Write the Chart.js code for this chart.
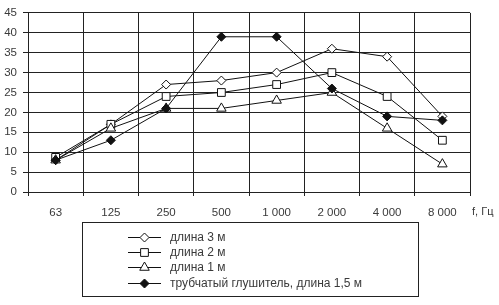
<!DOCTYPE html>
<html>
<head>
<meta charset="utf-8">
<script src="https://cdn.jsdelivr.net/npm/chart.js@4/dist/chart.umd.min.js"></script>
<style>
  html, body { margin: 0; padding: 0; background: #fff; }
  #wrap { width: 499px; height: 305px; position: relative; }
</style>
</head>
<body>
<div id="wrap"><canvas id="noiseChart" width="499" height="305"></canvas></div>
<script>
const freqLabels = ['63', '125', '250', '500', '1 000', '2 000', '4 000', '8 000'];
const len3m = [8, 17, 27, 28, 30, 36, 34, 19];
const len2m = [8.7, 17, 24, 25, 27, 30, 24, 13];
const len1m = [8, 16, 21, 21, 23, 25, 16, 7];
const tubeSilencer = [8, 13, 21, 39, 39, 26, 19, 18];
const seriesNames = ['длина 3 м', 'длина 2 м', 'длина 1 м', 'трубчатый глушитель, длина 1,5 м'];
const yTicks = [0, 5, 10, 15, 20, 25, 30, 35, 40, 45];

const fontFamily = '"Liberation Sans", Arial, sans-serif';
const textColor = '#3a3a3a';

function makeSet(label, data, style, radius, fill, order) {
    return {
        label: label,
        data: data,
        borderColor: '#111',
        borderWidth: 1,
        pointStyle: style,
        pointRadius: radius,
        pointHoverRadius: radius,
        pointBackgroundColor: fill,
        pointBorderColor: '#111',
        pointBorderWidth: 1,
        tension: 0,
        fill: false,
        order: order
    };
}

// legend in a box under the plot, line + marker + text
const boxLegend = {
    id: 'boxLegend',
    afterDraw(chart) {
        const ctx = chart.ctx;
        ctx.save();
        ctx.strokeStyle = '#222';
        ctx.lineWidth = 1;
        ctx.strokeRect(82.5, 222.5, 336, 74);
        const rows = [237, 252, 267, 283];
        ctx.font = '12px ' + fontFamily;
        ctx.textBaseline = 'middle';
        chart.data.datasets.forEach((ds, i) => {
            const y = rows[i] + 0.5;
            ctx.strokeStyle = '#111';
            ctx.lineWidth = 1;
            ctx.beginPath();
            ctx.moveTo(128, y);
            ctx.lineTo(161, y);
            ctx.stroke();
            ctx.fillStyle = ds.pointBackgroundColor;
            ctx.strokeStyle = '#111';
            Chart.helpers.drawPoint(ctx, {
                pointStyle: ds.pointStyle,
                radius: ds.pointRadius,
                borderWidth: 1,
                rotation: 0
            }, 144.5, y);
            ctx.fillStyle = textColor;
            ctx.fillText(ds.label, 170, y);
        });
        // axis unit
        ctx.font = '11px ' + fontFamily;
        ctx.fillText('f, Гц', 472, 212);
        ctx.restore();
    }
};

new Chart(document.getElementById('noiseChart'), {
    type: 'line',
    data: {
        labels: freqLabels,
        datasets: [
            makeSet(seriesNames[0], len3m, 'rectRot', 4.5, '#fff', 4),
            makeSet(seriesNames[1], len2m, 'rect', 5.5, '#fff', 3),
            makeSet(seriesNames[2], len1m, 'triangle', 5.5, '#fff', 2),
            makeSet(seriesNames[3], tubeSilencer, 'rectRot', 4.5, '#111', 1)
        ]
    },
    plugins: [boxLegend],
    options: {
        responsive: false,
        animation: false,
        layout: { padding: { top: 7, right: 29, left: 0, bottom: 0 } },
        plugins: {
            legend: { display: false },
            tooltip: { enabled: false }
        },
        scales: {
            x: {
                offset: true,
                grid: { offset: true, color: '#222', lineWidth: 1, tickLength: 4, drawTicks: true },
                border: { color: '#222' },
                ticks: { color: textColor, font: { family: fontFamily, size: 11.5 }, padding: 10, maxRotation: 0 },
                afterFit(scale) { scale.height = 113; }
            },
            y: {
                min: 0,
                max: 45,
                afterBuildTicks(scale) { scale.ticks = yTicks.map(v => ({ value: v })); },
                grid: { color: '#222', lineWidth: 1, tickLength: 5 },
                border: { color: '#222' },
                ticks: { color: textColor, font: { family: fontFamily, size: 11.5 }, padding: 6 },
                afterFit(scale) { scale.width = 28; }
            }
        }
    }
});
</script>
</body>
</html>
